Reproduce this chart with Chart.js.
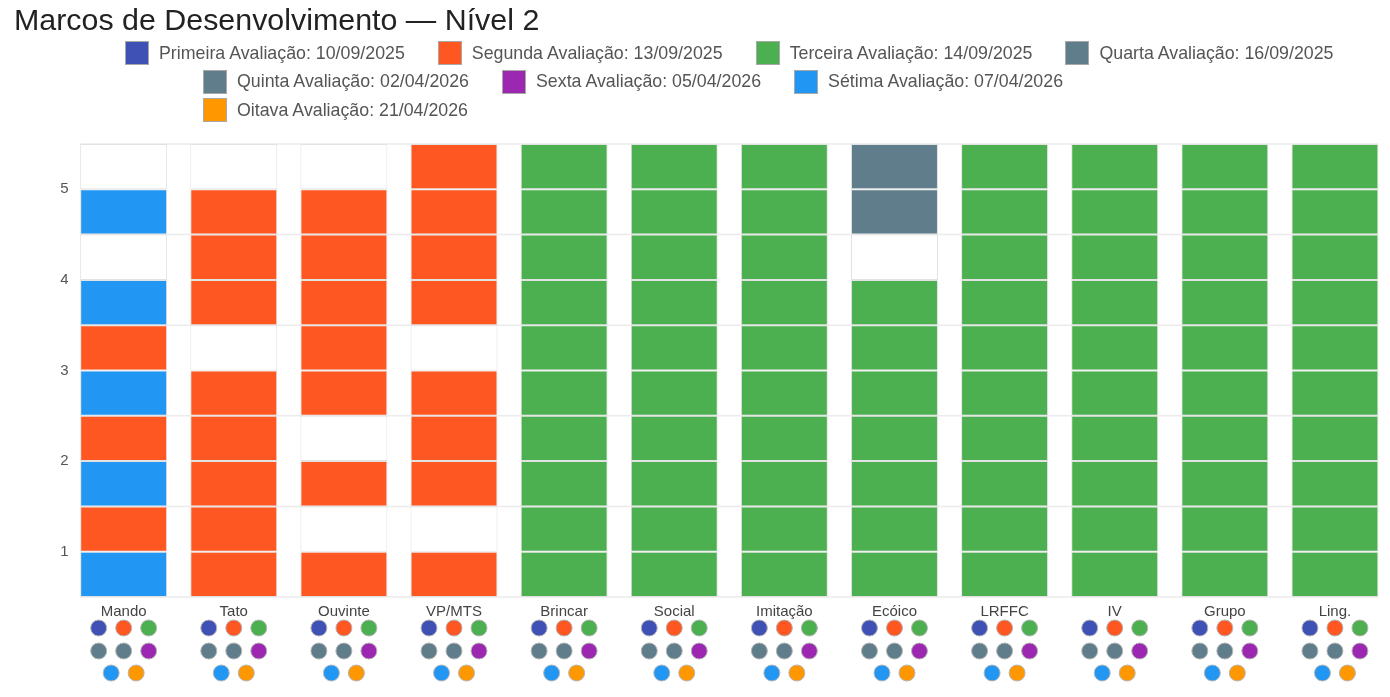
<!DOCTYPE html>
<html lang="pt-BR">
<head>
<meta charset="utf-8">
<title>Marcos de Desenvolvimento — Nível 2</title>
<script src="https://cdn.jsdelivr.net/npm/chart.js@4.4.1/dist/chart.umd.min.js"></script>
<style>
    body { margin: 0; background: #fff; font-family: "Liberation Sans", Arial, sans-serif; }
    #wrap { position: relative; width: 1390px; height: 697px; }
    #legenda { position: absolute; left: 0; top: 0; width: 1390px; }
    .linha { position: absolute; display: flex; align-items: center; height: 24px; white-space: nowrap; }
    .item { display: flex; align-items: center; margin-right: 33px; }
    .caixa { width: 22px; height: 22px; border: 1px solid #a8a8a8; margin-right: 10px; }
    .texto { font-size: 17.8px; color: #555; }
</style>
</head>
<body>
<div id="wrap">
    <canvas id="chart"></canvas>
    <div id="legenda"></div>
</div>
<script>
// Dados ==========================
const categorias = ["Mando", "Tato", "Ouvinte", "VP/MTS", "Brincar", "Social", "Imitação", "Ecóico", "LRFFC", "IV", "Grupo", "Ling."];

const avaliacoes = [
    "Primeira Avaliação: 10/09/2025",
    "Segunda Avaliação: 13/09/2025",
    "Terceira Avaliação: 14/09/2025",
    "Quarta Avaliação: 16/09/2025",
    "Quinta Avaliação: 02/04/2026",
    "Sexta Avaliação: 05/04/2026",
    "Sétima Avaliação: 07/04/2026",
    "Oitava Avaliação: 21/04/2026"
];
const cores = ["#3F51B5", "#FF5722", "#4CAF50", "#607D8B", "#607D8B", "#9C27B0", "#2196F3", "#FF9800"];

// meio-níveis de baixo para cima (0.5-1, 1-1.5, ... 5-5.5): índice da avaliação, null = não atingido
const mando    = [6, 1, 6, 1, 6, 1, 6, null, 6, null];
const tato     = [1, 1, 1, 1, 1, null, 1, 1, 1, null];
const ouvinte  = [1, null, 1, null, 1, 1, 1, 1, 1, null];
const vpMts    = [1, null, 1, 1, 1, null, 1, 1, 1, 1];
const brincar  = [2, 2, 2, 2, 2, 2, 2, 2, 2, 2];
const social   = [2, 2, 2, 2, 2, 2, 2, 2, 2, 2];
const imitacao = [2, 2, 2, 2, 2, 2, 2, 2, 2, 2];
const ecoico   = [2, 2, 2, 2, 2, 2, 2, null, 3, 3];
const lrffc    = [2, 2, 2, 2, 2, 2, 2, 2, 2, 2];
const iv       = [2, 2, 2, 2, 2, 2, 2, 2, 2, 2];
const grupo    = [2, 2, 2, 2, 2, 2, 2, 2, 2, 2];
const ling     = [2, 2, 2, 2, 2, 2, 2, 2, 2, 2];

const marcos = [mando, tato, ouvinte, vpMts, brincar, social, imitacao, ecoico, lrffc, iv, grupo, ling];
const meiosNiveis = [0.5, 1, 1.5, 2, 2.5, 3, 3.5, 4, 4.5, 5];
const yTicks = [1, 2, 3, 4, 5];
const linhasGrade = [0.5, 1.5, 2.5, 3.5, 4.5, 5.5];

// Legenda (HTML) ==========================
const linhasLegenda = [[0, 1, 2, 3], [4, 5, 6], [7]];
const posLinhas = [{ x: 125, y: 41 }, { x: 203, y: 69.5 }, { x: 203, y: 98 }];

const legenda = document.getElementById("legenda");
linhasLegenda.forEach((linha, r) => {
    const div = document.createElement("div");
    div.className = "linha";
    div.style.left = posLinhas[r].x + "px";
    div.style.top = posLinhas[r].y + "px";
    linha.forEach(i => {
        const item = document.createElement("div");
        item.className = "item";
        item.innerHTML = `<span class="caixa" style="background:${cores[i]}"></span><span class="texto">${avaliacoes[i]}</span>`;
        div.appendChild(item);
    });
    legenda.appendChild(div);
});

// Linhas de grade só entre a primeira e a última coluna ==========================
const grade = {
    id: "grade",
    beforeDatasetsDraw(chart) {
        const { ctx, scales } = chart;
        const barras = chart.getDatasetMeta(0).data;
        const x0 = barras[0].x - barras[0].width / 2;
        const ult = barras[barras.length - 1];
        const x1 = ult.x + ult.width / 2;
        ctx.save();
        ctx.strokeStyle = "#ebebeb";
        ctx.lineWidth = 1.5;
        linhasGrade.forEach(v => {
            const y = scales.y.getPixelForValue(v);
            ctx.beginPath();
            ctx.moveTo(x0, y);
            ctx.lineTo(x1, y);
            ctx.stroke();
        });
        ctx.restore();
    }
};

// Bolinhas abaixo de cada categoria ==========================
const bolinhas = {
    id: "bolinhas",
    afterDraw(chart) {
        const { ctx, chartArea, scales } = chart;
        const linhas = [
            { dy: 31, dx: [-25, 0, 25], idx: [0, 1, 2] },
            { dy: 54, dx: [-25, 0, 25], idx: [3, 4, 5] },
            { dy: 76, dx: [-12.5, 12.5], idx: [6, 7] }
        ];
        ctx.save();
        categorias.forEach((c, i) => {
            const cx = scales.x.getPixelForValue(i);
            linhas.forEach(l => {
                l.idx.forEach((k, j) => {
                    ctx.beginPath();
                    ctx.arc(cx + l.dx[j], chartArea.bottom + l.dy, 8, 0, Math.PI * 2);
                    ctx.fillStyle = cores[k];
                    ctx.fill();
                    ctx.lineWidth = 1;
                    ctx.strokeStyle = "#b5b5b5";
                    ctx.stroke();
                });
            });
        });
        ctx.restore();
    }
};

// Gráfico ==========================
Chart.defaults.font.family = '"Liberation Sans", Arial, sans-serif';

const datasets = meiosNiveis.map((base, k) => ({
    label: "Meio nível " + base,
    data: categorias.map(() => [base, base + 0.5]),
    backgroundColor: marcos.map(m => m[k] === null ? "#ffffff" : cores[m[k]]),
    borderColor: "#e2e2e2",
    borderWidth: 1,
    borderSkipped: false,
    categoryPercentage: 1,
    barPercentage: 0.79
}));

const ctx = document.getElementById("chart").getContext("2d");
const chart = new Chart(ctx, {
    type: "bar",
    data: { labels: categorias, datasets },
    options: {
        responsive: true,
        maintainAspectRatio: false,
        animation: false,
        layout: { padding: { left: 14, right: 0, top: 0, bottom: 0 } },
        plugins: {
            legend: { display: false },
            tooltip: { enabled: false },
            title: {
                display: true,
                text: "Marcos de Desenvolvimento — Nível 2",
                align: "start",
                color: "#222",
                font: { size: 30.4, weight: "normal" },
                padding: { top: 3, bottom: 104.5 }
            }
        },
        scales: {
            x: {
                stacked: true,
                grid: { display: false, drawTicks: false },
                border: { display: false },
                ticks: { color: "#444", font: { size: 15 }, padding: 6 },
                afterFit: s => { s.height = 100; }
            },
            y: {
                min: 0.5,
                max: 5.5,
                border: { display: false },
                grid: { display: false, drawTicks: false },
                ticks: {
                    stepSize: 0.5,
                    autoSkip: false,
                    padding: 0,
                    color: "#555",
                    font: { size: 15 },
                    callback: v => yTicks.includes(v) ? v : ""
                },
                afterFit: s => { s.width = 54.6; }
            }
        }
    },
    plugins: [grade, bolinhas]
});
</script>
</body>
</html>
